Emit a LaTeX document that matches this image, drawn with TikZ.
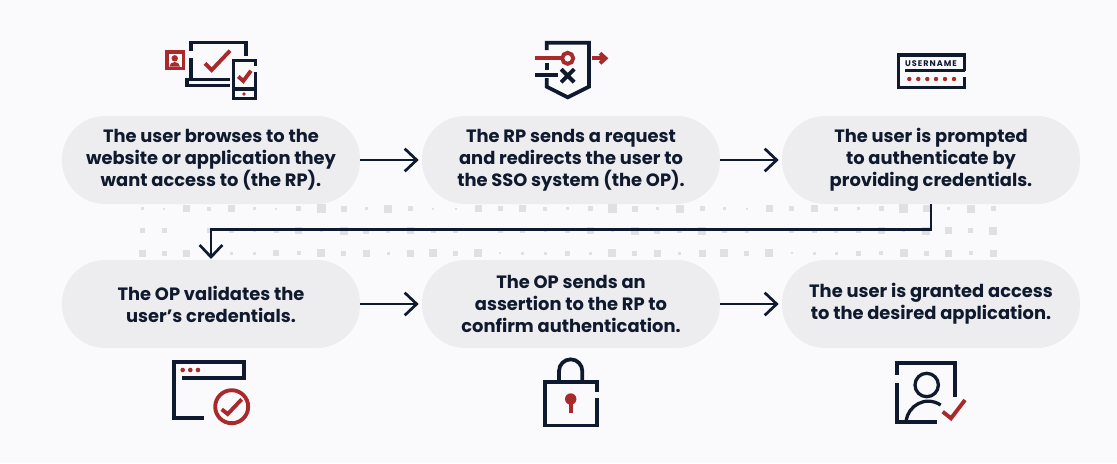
\documentclass[tikz,border=0pt]{standalone}
\usepackage{fontspec}
\setmainfont{Poppins}
\usetikzlibrary{arrows.meta}
\definecolor{navy}{HTML}{0F1A2E}
\definecolor{brick}{HTML}{A82A2A}
\definecolor{pagebg}{HTML}{FAFAFD}
\definecolor{pill}{HTML}{EDEDEF}
\definecolor{speck}{HTML}{E0E0E4}
\tikzset{
  stage/.style={fill=pill, rounded corners=1.3cm, minimum width=8.94cm, minimum height=2.64cm, align=center, inner sep=0pt, outer sep=0pt, text=navy, font=\fontsize{15.25}{18.8}\selectfont\bfseries},
  flow/.style={draw=navy, line width=2.3pt, -{Straight Barb[length=3.6mm,width=6.8mm,line width=2.3pt]}},
  navyline/.style={draw=navy, line width=3.2pt},
  redline/.style={draw=brick, line width=3.3pt},
  thinline/.style={draw=navy, line width=2.8pt}
}
\begin{document}
\begin{tikzpicture}[x=0.03cm,y=-0.03cm]
  \useasboundingbox (0,0) rectangle (1117,463);
  \fill[pagebg] (0,0) rectangle (1117,463);

  \foreach \s [count=\i from 0] in {3,2,7,4,7,3,2,5,9,6,3,8,5,2,2,7,5,7,4,3,5,9,6,3,8,5,3,2,7,5,7,4,3,5,9,7,3,8,5}
    \fill[speck] (142+22.4*\i-\s/2,208.5-\s/2) rectangle ++(\s,\s);
  \foreach \s [count=\i from 0] in {5,5,0,5,5,3,5,7,3,8,6,4,7,5,5,0,5,5,3,5,7,3,8,6,5,8,5,4,0,5,5,4,5,7,3,8,7,5,8}
    \fill[speck] (142+22.4*\i-\s/2,230.7-\s/2) rectangle ++(\s,\s);
  \foreach \s [count=\i from 0] in {7,5,7,0,3,3,6,4,8,5,7,3,7,8,5,8,2,3,3,5,3,8,5,7,3,7,8,5,8,2,3,3,5,4,8,5,7,4,7}
    \fill[speck] (142+22.4*\i-\s/2,253.3-\s/2) rectangle ++(\s,\s);

  \node[stage] (browse) at (211,160) {The user browses to the\\website or application they\\want access to (the RP).};
  \node[stage] (request) at (571,160) {The RP sends a request\\and redirects the user to\\the SSO system (the OP).};
  \node[stage] (prompt) at (931,160) {The user is prompted\\to authenticate by\\providing credentials.};
  \node[stage] (validate) at (211,304) {The OP validates the\\user's credentials.};
  \node[stage] (assert) at (571,304) {The OP sends an\\assertion to the RP to\\confirm authentication.};
  \node[stage] (grant) at (931,304) {The user is granted access\\to the desired application.};

  \coordinate (bend) at (571,229.5);
  \draw[flow, shorten >=0.1cm] (browse) -- (request);
  \draw[flow, shorten >=0.1cm] (request) -- (prompt);
  \draw[flow, shorten >=0.03cm] (prompt.south) |- (bend) -| (validate.north);
  \draw[flow, shorten >=0.1cm] (validate) -- (assert);
  \draw[flow, shorten >=0.1cm] (assert) -- (grant);

  \draw[navyline] (190.7,51) |- (245.7,42.5) -- (245.7,56);
  \draw[navyline] (190.7,58) -- (190.7,79.5);
  \draw[navyline] (230,79.5) -| (187,85.5) -- (230,85.5);
  \draw[redline] (205,63.3) -- (211.7,70) -- (230,50.7);
  \draw[navyline] (255.5,66) -- (255.5,60.5) -| (233.5,98.5) -| (255.5,72);
  \draw[navyline] (233.5,89) -- (255.5,89);
  \draw[redline] (238.3,76.5) -- (243.3,81) -- (251,70.7);
  \fill[brick] (244,94) circle (1.8);
  \fill[brick] (165,50) rectangle (185,70);
  \fill[pagebg] (168.5,53.5) rectangle (181.5,66.5);
  \fill[brick] (174.7,58.3) circle (3.2);
  \fill[brick] (169.5,66.5) arc[start angle=180, end angle=360, x radius=5.2, y radius=4.5] -- cycle;

  \draw[navyline] (546.7,50) |- (589,42.7) |- (589,86.7) -- (567.7,97.3) -- (546.7,86.7) -- (546.7,78);
  \draw[navyline] (546.7,63) -- (546.7,70);
  \draw[redline] (535,58.3) -- (562,58.3);
  \draw[redline] (567.7,58.3) circle (5.5);
  \draw[navyline] (535,75) -- (558,75);
  \draw[navyline, line width=3.4pt] (561.2,69.2) -- (574.2,82.2) (574.2,69.2) -- (561.2,82.2);
  \draw[redline] (592.3,58.3) -- (605,58.3);
  \draw[redline] (600,53.3) -- (605.5,58.3) -- (600,63.3);

  \draw[navyline] (964.5,70.8) -- (964.5,55.3) -| (898.5,87.5) -| (964.5,76.7);
  \draw[navyline, line width=2.4pt] (905,70.8) -- (964.5,70.8);
  \node[text=navy, inner sep=0pt, font=\fontsize{7}{8}\selectfont\bfseries\addfontfeature{LetterSpace=12}] (username) at (931,63.3) {USERNAME};
  \foreach \x in {909.3,918.3,927.3,936,945,954}
    \fill[brick] (\x,79) circle (2.2);

  \draw[navyline] (204.3,418.3) -| (174,361.7) -| (244,378.3) -- (182.3,378.3);
  \foreach \x in {182.7,190.3,198}
    \fill[brick] (\x,370) circle (2.3);
  \draw[redline] (231.7,406.7) circle (16.5);
  \draw[redline] (221.7,409.3) -- (227.7,414) -- (241.7,399.3);

  \draw[navyline] (597,391.7) |- (545,382) |- (597,425.5) -- (597,398.3);
  \draw[navyline] (559,382) -- (559,371) arc[start angle=180, end angle=360, radius=11.65] -- (582.3,382);
  \fill[brick] (570.7,399) circle (5.7);
  \fill[brick] (568.7,400) rectangle (572.7,412.7);

  \draw[navyline] (896.7,375) |- (955,363.3) -- (955,397.3);
  \draw[navyline] (896.7,383.3) |- (936.7,421.7);
  \draw[thinline] (926.7,385) circle (11.7);
  \draw[thinline] (906,421) .. controls (908,406) and (925,395) .. (940.7,405);
  \draw[redline] (942.7,411.7) -- (951,418.3) -- (965,400);
\end{tikzpicture}
\end{document}
